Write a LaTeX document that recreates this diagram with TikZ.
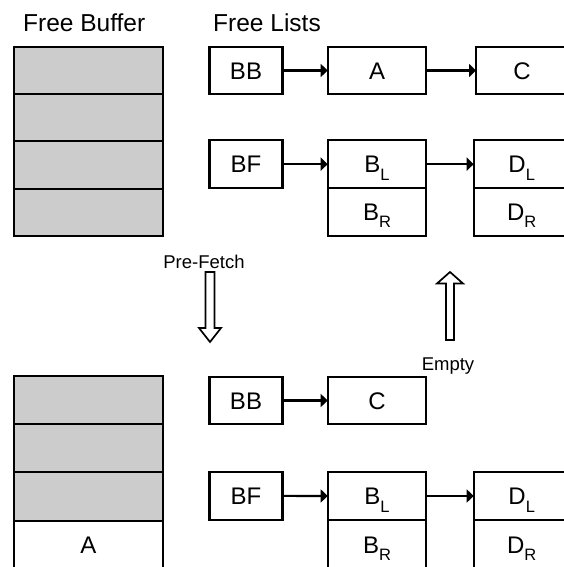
\documentclass[tikz,border=0pt]{standalone}
\usepackage{fontspec}
\setmainfont{Liberation Sans}
\usetikzlibrary{arrows.meta}
\definecolor{cellgray}{RGB}{204,204,204}
\newcommand\sublow[2]{\raisebox{-#1}{\fontsize{16.5}{16.5}\selectfont #2}}
\begin{document}
\begin{tikzpicture}[x=1pt,y=-1pt,
  boxfont/.style={font=\fontsize{24}{24}\selectfont, text height=17.2pt, text depth=0pt},
  cell/.style={draw, line width=2.2pt, fill=cellgray, minimum width=148.7pt,
    inner sep=0pt, outer sep=0pt, anchor=north west, boxfont},
  whitecell/.style={cell, fill=white},
  lbox/.style={draw, line width=2.2pt, fill=white, inner sep=0pt, outer sep=0pt,
    anchor=north west, boxfont},
  link/.style={line width=2.2pt, -{Triangle[length=7pt,width=13pt]}},
  hollow/.style={draw, line width=1.7pt, fill=white, line join=miter},
  title/.style={anchor=base, inner sep=0pt, font=\fontsize{24.5}{24.5}\selectfont},
  small/.style={anchor=base, inner sep=0pt, font=\fontsize{18.5}{18.5}\selectfont}]
\useasboundingbox (0,0) rectangle (564,567);
\fill[white] (0,0) rectangle (564,567);

% titles
\node[title] (fbt) at (84.2,31.7) {Free Buffer};
\node[title] (flt) at (267,31.7) {Free Lists};

% top buffer
\node[cell, minimum height=47.3pt] (t1) at (14,46.7) {};
\node[cell, minimum height=47.3pt] (t2) at (t1.south west) {};
\node[cell, minimum height=47.3pt] (t3) at (t2.south west) {};
\node[cell, minimum height=47.3pt] (t4) at (t3.south west) {};

% top free lists
\node[lbox, minimum width=73pt, minimum height=47.6pt] (bb1) at (209.5,46.7) {BB};
\node[lbox, minimum width=98.6pt, minimum height=47.6pt] (a1) at (327.7,46.7) {A};
\node[lbox, minimum width=92pt, minimum height=47.6pt] (c1) at (476,46.7) {C};
\node[lbox, minimum width=73pt, minimum height=48.3pt] (bf1) at (209.5,140) {BF};
\node[lbox, minimum width=98.6pt, minimum height=48.3pt] (bl1) at (327.7,140) {B\sublow{8pt}{L}};
\node[lbox, minimum width=98.6pt, minimum height=47.7pt] (br1) at (bl1.south west) {B\sublow{7pt}{R}};
\node[lbox, minimum width=96pt, minimum height=48.3pt] (dl1) at (473.7,140) {D\sublow{8pt}{L}};
\node[lbox, minimum width=96pt, minimum height=47.7pt] (dr1) at (dl1.south west) {D\sublow{7pt}{R}};

\draw[link] (bb1.east) -- (a1.west);
\draw[link] (a1.east) -- (c1.west);
\draw[link] (bf1.east) -- (bl1.west);
\draw[link] (bl1.east) -- (dl1.west);

% transition arrows
\node[small] (pf) at (204,268.3) {Pre-Fetch};
\path[hollow] (205.5,272) -- (214.5,272) -- (214.5,328) -- (221,328) -- (210,342)
  -- (199,328) -- (205.5,328) -- cycle;
\path[hollow] (446,340) -- (454,340) -- (454,283.5) -- (463,283.5) -- (450,272)
  -- (437,283.5) -- (446,283.5) -- cycle;
\node[small] (em) at (448,370) {Empty};

% bottom buffer
\node[cell, minimum height=48.3pt] (u1) at (14,375.7) {};
\node[cell, minimum height=48.3pt] (u2) at (u1.south west) {};
\node[cell, minimum height=48.3pt] (u3) at (u2.south west) {};
\node[whitecell, minimum height=48.3pt] (u4) at (u3.south west) {A};

% bottom free lists
\node[lbox, minimum width=73pt, minimum height=47.6pt] (bb2) at (209.5,376.7) {BB};
\node[lbox, minimum width=98.6pt, minimum height=47.6pt] (c2) at (327.7,376.7) {C};
\node[lbox, minimum width=73pt, minimum height=48.3pt] (bf2) at (209.5,471.7) {BF};
\node[lbox, minimum width=98.6pt, minimum height=48.6pt] (bl2) at (327.7,471.7) {B\sublow{8pt}{L}};
\node[lbox, minimum width=98.6pt, minimum height=48.6pt] (br2) at (bl2.south west) {B\sublow{7pt}{R}};
\node[lbox, minimum width=96pt, minimum height=48.6pt] (dl2) at (473.7,471.7) {D\sublow{8pt}{L}};
\node[lbox, minimum width=96pt, minimum height=48.6pt] (dr2) at (dl2.south west) {D\sublow{7pt}{R}};

\draw[link] (bb2.east) -- (c2.west);
\draw[link] (bf2.east) -- (bl2.west);
\draw[link] (bl2.east) -- (dl2.west);
\end{tikzpicture}
\end{document}
